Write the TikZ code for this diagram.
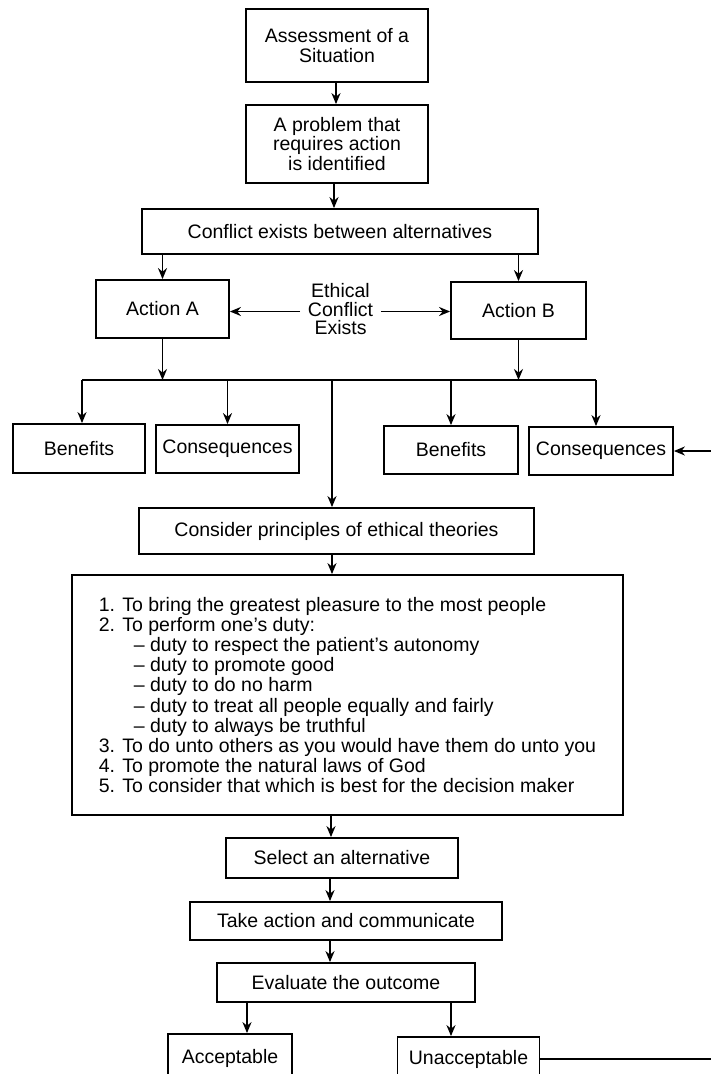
\documentclass[tikz,border=0pt]{standalone}
\usepackage{fontspec}
\setmainfont{Liberation Sans}
\usetikzlibrary{arrows.meta,positioning}
\tikzset
{
    flowbox/.style  = {draw=black, align=center, inner sep=2pt, font=\fontsize{19.5}{19.5}\selectfont},
    freetext/.style = {align=center, inner xsep=7pt, inner ysep=2pt, font=\fontsize{19.5}{18.5}\selectfont},
    rulebox/.style  = {draw=black, align=left, inner sep=0pt, font=\fontsize{19.5}{20.1}\selectfont}
}

\begin{document}
\begin{tikzpicture}[x=1pt, y=-1pt, ->, >={Stealth[length=11pt,width=9pt]}, line width=1.8pt]
    \useasboundingbox (0,0) rectangle (711,1074);
    \clip (0,0) rectangle (711,1074);
    \node [flowbox, minimum width=182, minimum height=73] (assess) at (337,45.5) {Assessment of a\\Situation};
    \node [flowbox, minimum width=182, minimum height=78] (problem) at (337,144) {A problem that\\requires action\\is identified};
    \node [flowbox, minimum width=396, minimum height=45] (conflict) at (340,231.5) {Conflict exists between alternatives};
    \node [flowbox, minimum width=133, minimum height=58] (actA) at (162.5,309) {Action A};
    \node [flowbox, minimum width=135, minimum height=57] (actB) at (518.5,310.5) {Action B};
    \node [freetext] (ethical) at (340.5,309.5) {Ethical\\Conflict\\Exists};
    \node [flowbox, minimum width=132, minimum height=49] (benA) at (79,448.5) {Benefits};
    \node [flowbox, minimum width=143, minimum height=48] (conA) at (227.5,449) {Consequences};
    \node [flowbox, minimum width=134, minimum height=48] (benB) at (451,450) {Benefits};
    \node [flowbox, minimum width=144, minimum height=48] (conB) at (601,451) {Consequences};
    \node [flowbox, minimum width=395, minimum height=46] (consider) at (336.5,531) {Consider principles of ethical theories};
    \node [rulebox, minimum width=551, minimum height=240] (rules) at (347.5,695)
    {
        1. To bring the greatest pleasure to the most people\\
        2. To perform one's duty:\\
        \hspace*{35pt}\textendash{} duty to respect the patient's autonomy\\
        \hspace*{35pt}\textendash{} duty to promote good\\
        \hspace*{35pt}\textendash{} duty to do no harm\\
        \hspace*{35pt}\textendash{} duty to treat all people equally and fairly\\
        \hspace*{35pt}\textendash{} duty to always be truthful\\
        3. To do unto others as you would have them do unto you\\
        4. To promote the natural laws of God\\
        5. To consider that which is best for the decision maker
    };
    \node [flowbox, minimum width=232, minimum height=40] (select) at (342,858) {Select an alternative};
    \node [flowbox, minimum width=312, minimum height=38] (act) at (346,921) {Take action and communicate};
    \node [flowbox, minimum width=258, minimum height=39] (evaluate) at (346,982.5) {Evaluate the outcome};
    \node [flowbox, minimum width=124, minimum height=48] (accept) at (230,1058) {Acceptable};
    \node [flowbox, minimum width=142, minimum height=44] (reject) at (468.5,1059) {Unacceptable};

    \coordinate (busL) at (82,380);
    \coordinate (busR) at (596,380);
    \coordinate (loop) at (722,700);

    \draw ([xshift=-1pt]assess.south) -- ([xshift=-1pt]problem.north);
    \draw ([xshift=-3pt]problem.south) -- ([xshift=-3pt]problem.south |- conflict.north);
    \draw (actA.north |- conflict.south) -- (actA.north);
    \draw (actB.north |- conflict.south) -- (actB.north);
    \draw ([yshift=-2pt]ethical.west) -- ([yshift=-2pt]ethical.west -| actA.east);
    \draw ([yshift=-2pt]ethical.east) -- ([yshift=-2pt]ethical.east -| actB.west);
    \draw (actA.south) -- (actA.south |- busL);
    \draw (actB.south) -- (actB.south |- busR);
    \draw [-] (busL) -- (busR);
    \draw (busL) -- (busL |- benA.north);
    \draw (conA.north |- busL) -- (conA.north);
    \draw (benB.north |- busL) -- (benB.north);
    \draw (busR) -- (busR |- conB.north);
    \draw ([xshift=-4.5pt]consider.north |- busL) -- ([xshift=-4.5pt]consider.north);
    \draw ([xshift=-4.5pt]consider.south) -- ([xshift=-4.5pt]consider.south |- rules.north);
    \draw ([xshift=-11pt]select.north |- rules.south) -- ([xshift=-11pt]select.north);
    \draw ([xshift=-12pt]select.south) -- ([xshift=-12pt]select.south |- act.north);
    \draw ([xshift=-16pt]act.south -| evaluate.north) -- ([xshift=-16pt]evaluate.north);
    \draw ([xshift=17pt]accept.north |- evaluate.south) -- ([xshift=17pt]accept.north);
    \draw ([xshift=-17.5pt]reject.north |- evaluate.south) -- ([xshift=-17.5pt]reject.north);
    \draw (reject.east) -- (reject.east -| loop) -- (conB.east -| loop) -- (conB.east);
\end{tikzpicture}
\end{document}
